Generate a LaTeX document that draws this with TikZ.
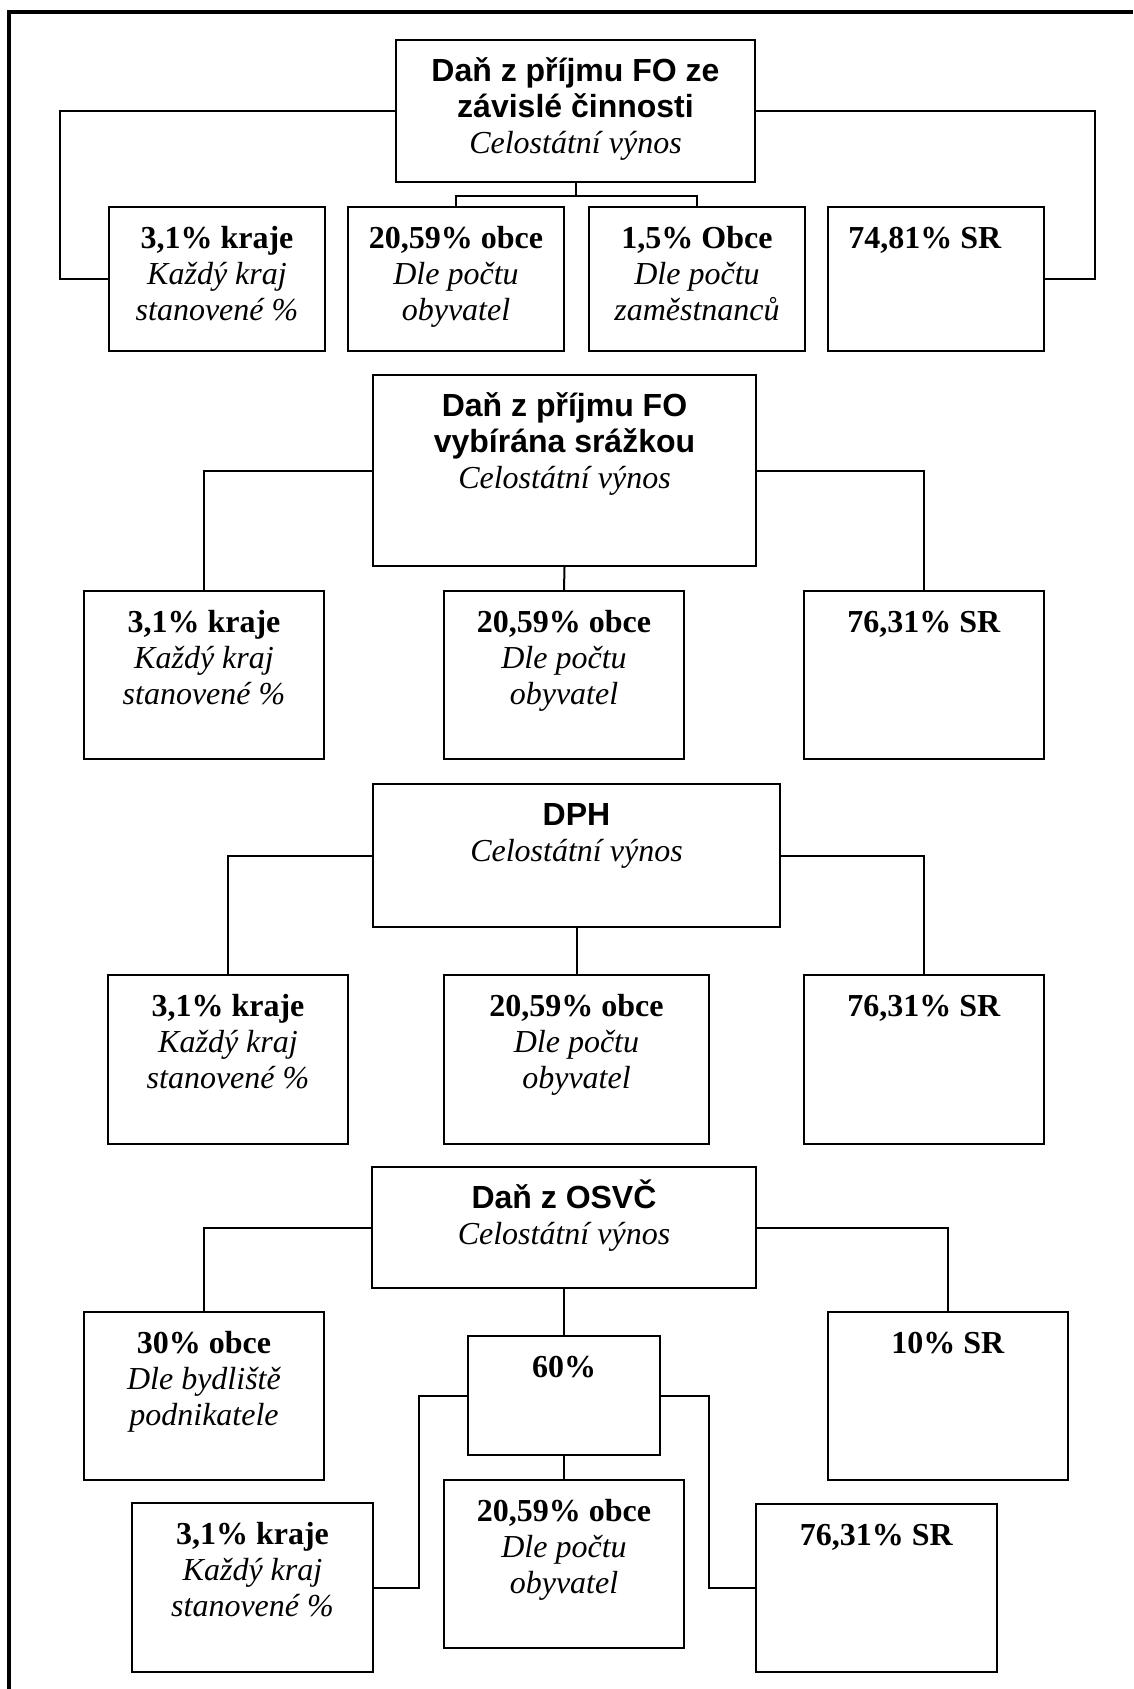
\documentclass[tikz,border=0pt]{standalone}
\usepackage{fontspec}
\setmainfont{Liberation Serif}
\newfontfamily\headfont{Liberation Sans}
\usepackage{tikz}
\usetikzlibrary{calc}
\newcommand{\taxhead}[1]{{\headfont\bfseries #1}}
\tikzset{
    tax diagram/.style={
            x=1pt,y=-1pt,line width=2pt,
            frame/.style={line width=4pt}
        },
    box/.style 2 args={draw,anchor=north west,inner sep=0pt,
            text width=#1pt,align=flush center,
            text height=41pt,text depth=#2pt-41pt,
            font=\fontsize{32}{36}\selectfont}
    }

\begin{document}
\begin{tikzpicture}[tax diagram]
    \useasboundingbox (0,0) rectangle (1133,1689);
    \draw [frame] (9,1689) -- (9,12) -- (1133,12);

    \node (A) [box={359}{142}] at (395,39) {\taxhead{Daň z příjmu FO ze}\\\taxhead{závislé činnosti}\\\textit{Celostátní výnos}};
    \node (B1) [box={216}{144}] at (108,206) {\textbf{3,1\% kraje}\\\textit{Každý kraj}\\\textit{stanovené \%}};
    \node (B2) [box={216}{144}] at (347,206) {\textbf{20,59\% obce}\\\textit{Dle počtu}\\\textit{obyvatel}};
    \node (B3) [box={216}{144}] at (588,206) {\textbf{1,5\% Obce}\\\textit{Dle počtu}\\\textit{zaměstnanců}};
    \node (B4) [box={216}{144}] at (827,206) {\textbf{74,81\% SR}\rule{22pt}{0pt}};
    \draw (A.west) -- ++(-335,0) |- (B1.west);
    \draw (A.east) -- ++(339,0) |- (B4.east);
    \draw (A.south) -- ++(0,13) coordinate (a1);
    \draw (B2.north) |- (a1) -| (B3.north);

    \node (C) [box={383}{191}] at (372,374) {\taxhead{Daň z příjmu FO}\\\taxhead{vybírána srážkou}\\\textit{Celostátní výnos}};
    \node (D1) [box={240}{168}] at (83,590) {\textbf{3,1\% kraje}\\\textit{Každý kraj}\\\textit{stanovené \%}};
    \node (D2) [box={240}{168}] at (443,590) {\textbf{20,59\% obce}\\\textit{Dle počtu}\\\textit{obyvatel}};
    \node (D3) [box={240}{168}] at (803,590) {\textbf{76,31\% SR}};
    \draw (C.west) -| (D1.north);
    \draw (C.east) -| (D3.north);
    \draw (C.south) -- (D2.north);

    \node (E) [box={407}{143}] at (372,783) {\taxhead{DPH}\\\textit{Celostátní výnos}};
    \node (F1) [box={240}{169}] at (107,974) {\textbf{3,1\% kraje}\\\textit{Každý kraj}\\\textit{stanovené \%}};
    \node (F2) [box={265}{169}] at (443,974) {\textbf{20,59\% obce}\\\textit{Dle počtu}\\\textit{obyvatel}};
    \node (F3) [box={240}{169}] at (803,974) {\textbf{76,31\% SR}};
    \draw (E.west) -| (F1.north);
    \draw (E.east) -| (F3.north);
    \draw (E.south) -- (F2.north);

    \node (G) [box={384}{121}] at (371,1166) {\taxhead{Daň z OSVČ}\\\textit{Celostátní výnos}};
    \node (H1) [box={240}{168}] at (83,1311) {\textbf{30\% obce}\\\textit{Dle bydliště}\\\textit{podnikatele}};
    \node (M) [box={192}{119}] at (467,1335) {\textbf{60\%}};
    \node (H3) [box={240}{168}] at (827,1311) {\textbf{10\% SR}};
    \node (K1) [box={241}{169}] at (131,1502) {\textbf{3,1\% kraje}\\\textit{Každý kraj}\\\textit{stanovené \%}};
    \node (K2) [box={240}{168}] at (443,1479) {\textbf{20,59\% obce}\\\textit{Dle počtu}\\\textit{obyvatel}};
    \node (K3) [box={241}{168}] at (755,1503) {\textbf{76,31\% SR}};
    \draw (G.west) -| (H1.north);
    \draw (G.east) -| (H3.north);
    \draw (G.south) -- (M.north);
    \draw (M.west) -- ++(-48,0) |- (K1.east);
    \draw (M.east) -- ++(48,0) |- (K3.west);
    \draw (M.south) -- (K2.north);
\end{tikzpicture}
\end{document}
